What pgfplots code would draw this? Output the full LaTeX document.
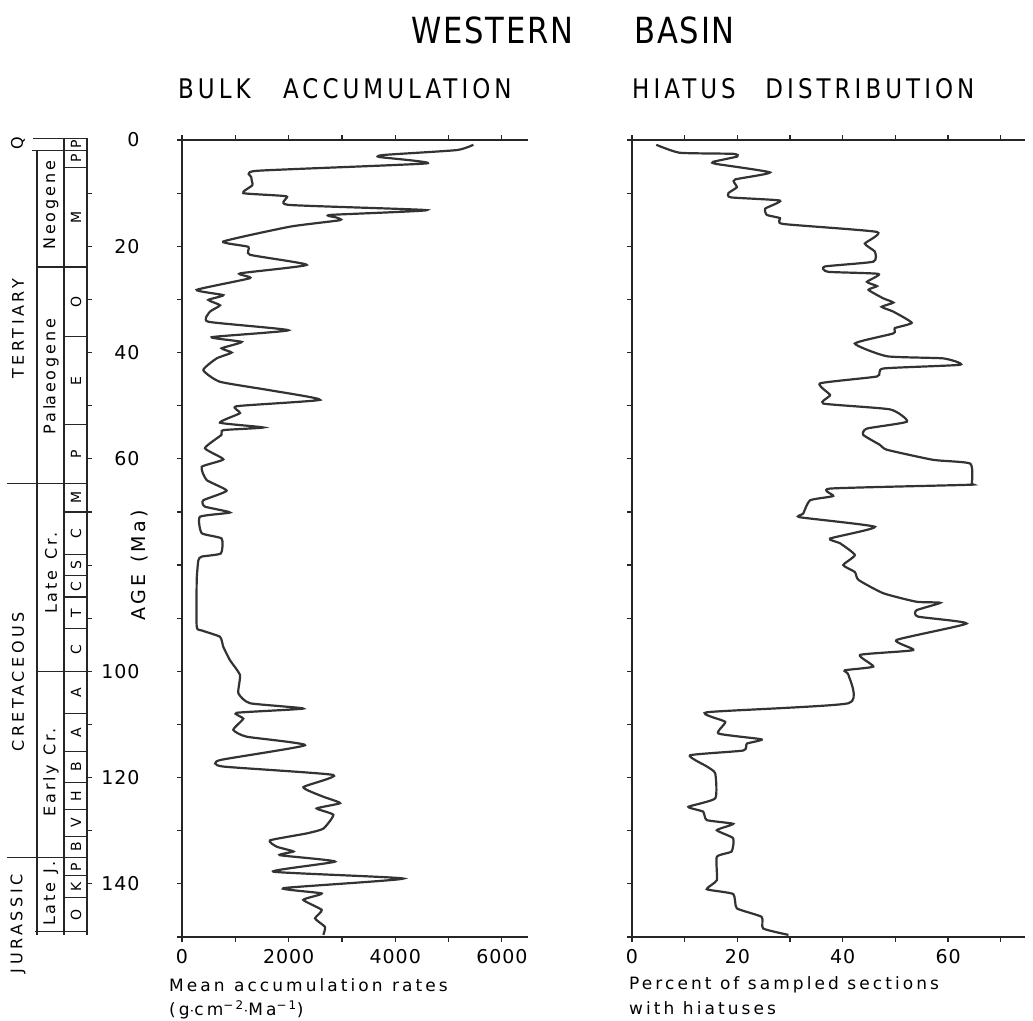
\documentclass[border=0pt]{standalone}
\usepackage{fontspec}
\setmainfont{DejaVu Sans}[LetterSpace=5]
\newfontfamily\titlefont{DejaVu Sans}[FakeStretch=0.85,LetterSpace=5]
\newfontfamily\headfont{DejaVu Sans}[FakeStretch=0.85,LetterSpace=15]
\newfontfamily\capfont{DejaVu Sans}[LetterSpace=18]
\newfontfamily\colfont{DejaVu Sans}[LetterSpace=22]
\usepackage{pgfplots}
\usepackage{pgfplotstable}
\pgfplotsset{compat=1.18}
\newcommand\fs[1]{\fontsize{#1}{#1}\selectfont}

% bulk accumulation rate (g cm-2 Ma-1) vs age (Ma)
\pgfplotstableread{
val age
5465 0.9
5150 1.9
3800 2.8
3700 3.2
4590 4.4
1400 5.8
1300 7.0
1320 8.5
1150 10.0
1960 10.6
1990 12.2
4590 13.2
2780 14.1
2900 14.6
2960 15.1
2030 16.3
775 19.1
1244 20.1
1276 21.6
2339 23.5
1088 25.1
1276 26.0
276 28.2
775 29.2
494 30.1
713 31.1
525 32.3
494 34.2
1995 35.8
557 37.1
1120 38.0
744 39.2
932 40.0
650 41.1
400 43.3
713 45.5
1651 47.1
2589 48.9
1026 50.1
1088 51.4
713 53.2
1525 54.1
775 54.6
740 55.5
431 58.0
775 60.1
370 61.5
463 64.0
838 66.0
400 67.8
430 69.0
900 70.1
338 70.9
370 74.0
744 75.0
730 77.8
370 78.4
307 79.1
276 82.8
276 91.6
370 92.3
713 93.5
775 95.4
900 97.9
1088 100.7
1057 104.1
1276 106.0
2276 107.0
1026 107.8
1150 108.9
962 111.0
1214 112.3
2307 113.9
713 116.7
760 117.9
2839 119.5
2276 121.8
2651 123.6
2964 124.8
2527 125.8
2839 127.0
2651 129.6
2339 130.5
1651 131.8
1776 133.0
2089 133.9
1838 134.6
2870 135.8
1713 137.7
4152 139.0
1901 140.8
2621 141.8
2276 143.0
2621 144.9
2495 146.5
2683 148.1
2651 149.6
}\bulk

% percent of sampled sections with hiatuses vs age (Ma)
\pgfplotstableread{
val age
4.6 0.9
9.1 2.4
19.2 2.6
20.0 3.1
15.4 4.1
16.0 4.5
26.2 6.1
19.6 7.4
19.4 8.0
19.9 8.9
18.3 10.0
18.8 10.8
28.1 11.4
25.3 12.9
25.6 14.1
28.1 14.7
28.7 15.8
46.5 17.3
44.2 19.5
46.1 21.0
45.8 22.9
36.6 23.8
37.2 24.8
46.8 25.2
44.6 26.7
46.5 27.5
44.9 28.2
47.7 29.8
49.6 30.6
47.4 31.4
49.6 32.3
53.1 34.4
49.9 35.4
49.6 36.4
42.3 38.3
48.4 40.7
59.1 41.1
62.3 42.3
47.7 43.0
46.5 44.5
35.7 45.8
37.6 48.0
36.3 49.6
49.0 50.7
52.2 53.0
44.6 54.3
43.9 55.5
47.1 57.4
48.4 58.3
57.2 60.2
64.2 60.9
64.5 64.6
63.5 64.9
37.6 65.6
38.2 67.0
33.8 67.8
32.5 70.3
31.9 71.0
46.1 72.8
37.6 75.0
39.5 75.9
42.3 78.1
40.1 80.0
42.3 81.3
43.0 82.8
47.7 85.3
54.0 86.9
58.5 87.1
54.0 88.5
54.3 89.7
63.5 91.0
50.2 94.1
53.4 96.0
43.3 96.9
45.8 99.1
40.4 99.8
41.1 100.7
41.1 106.0
14.2 107.7
17.7 109.5
16.4 111.7
24.6 112.8
21.8 113.6
21.1 114.9
11.0 115.8
14.2 117.9
15.8 119.2
15.8 123.9
10.7 125.5
13.5 126.4
14.2 128.0
19.2 128.7
16.1 129.9
19.2 131.4
18.9 133.9
16.1 134.9
16.1 139.3
14.2 141.0
19.2 141.9
19.9 144.6
24.6 146.2
24.9 148.4
29.7 149.6
}\hiatus

\pgfplotsset{
  agecol/.style={
    scale only axis, anchor=north west,
    height=797pt,
    y dir=reverse, ymin=0, ymax=150,
    axis x line=box, axis y line=left,
    axis line style={-, line width=1.3pt, black!85},
    tick align=outside,
    major tick length=5pt, minor tick length=5pt,
    every tick/.style={line width=1.2pt, black!85},
    ytick={0,20,...,140}, minor ytick={10,30,...,150},
    tick label style={font=\fs{19}},
    xticklabel style={yshift=-4pt},
    clip=false,
  },
  curve/.style={line width=2.2pt, black!80, smooth, tension=0.3},
}
\tikzset{strat/.style={line width=1.1pt, black!85}}

\begin{document}
\begin{tikzpicture}[x=1pt,y=1pt]
\path[use as bounding box] (0,0) rectangle (1033,-1020);

\begin{axis}[agecol, at={(182pt,-140pt)}, width=346pt,
  xmin=0, xmax=6490,
  xtick={0,2000,4000,6000}, minor xtick={1000,3000,5000},
  xticklabels={0,2000,4000,6000},
  yticklabels={0,20,40,60,{},100,120,140},
  yticklabel style={xshift=-34pt},
]
\addplot[curve] table[x=val,y=age] {\bulk};
\node[rotate=90,font=\capfont\fs{19}] at ([xshift=-42pt]axis cs:0,80) {AGE\hspace{0.6em}(Ma)};

% stratigraphic column (x offsets from the age axis, y in Ma)
\draw[strat] ([xshift=-149pt]axis cs:0,-0.35) -- ([xshift=-94pt]axis cs:0,-0.35);
\draw[strat] ([xshift=-150pt]axis cs:0,1.9) -- ([xshift=-94pt]axis cs:0,1.9);
\draw[strat] ([xshift=-145pt]axis cs:0,1.9) -- ([xshift=-145pt]axis cs:0,149.6);
\draw[strat] ([xshift=-118pt]axis cs:0,-0.35) -- ([xshift=-118pt]axis cs:0,149.6);
\draw[strat] ([xshift=-95pt]axis cs:0,-0.35) -- ([xshift=-95pt]axis cs:0,149.6);
\draw[strat] ([xshift=-147pt]axis cs:0,149) -- ([xshift=-95pt]axis cs:0,149);
\pgfplotsinvokeforeach{10,20,...,140}{
  \draw[strat] ([xshift=-95pt]axis cs:0,#1) -- ([xshift=-90pt]axis cs:0,#1);
}
\pgfplotsinvokeforeach{5.1,37,53.6,70,78,82,86,92,108,115,121,126,131,138.5,142.5}{
  \draw[strat] ([xshift=-118pt]axis cs:0,#1) -- ([xshift=-95pt]axis cs:0,#1);
}
\pgfplotsinvokeforeach{23.9,100}{
  \draw[strat] ([xshift=-145pt]axis cs:0,#1) -- ([xshift=-95pt]axis cs:0,#1);
}
\pgfplotsinvokeforeach{64.6,135}{
  \draw[strat] ([xshift=-175pt]axis cs:0,#1) -- ([xshift=-95pt]axis cs:0,#1);
}
% era names
\node[rotate=90,font=\colfont\fs{16}] at ([xshift=-164pt]axis cs:0,0.6) {Q};
\node[rotate=90,font=\colfont\fs{16}] at ([xshift=-164pt]axis cs:0,35.5) {TERTIARY};
\node[rotate=90,font=\colfont\fs{16}] at ([xshift=-164pt]axis cs:0,102) {CRETACEOUS};
\node[rotate=90,font=\colfont\fs{16}] at ([xshift=-164pt]axis cs:0,147.5) {JURASSIC};
% epoch names
\node[rotate=90,font=\capfont\fs{16}] at ([xshift=-131pt]axis cs:0,12.3) {Neogene};
\node[rotate=90,font=\capfont\fs{16}] at ([xshift=-131pt]axis cs:0,44.5) {Pal\kern-0.5pt aeogene};
\node[rotate=90,font=\capfont\fs{16}] at ([xshift=-131pt]axis cs:0,81.5) {Late\hspace{0.7em}Cr.};
\node[rotate=90,font=\capfont\fs{16}] at ([xshift=-131pt]axis cs:0,119) {Early\hspace{0.6em}Cr.};
\node[rotate=90,font=\capfont\fs{16}] at ([xshift=-131pt]axis cs:0,141.8) {Late\hspace{0.55em}J.};
% stage initials
\foreach \a/\t in {0.8/P,3.5/P,14.5/M,30.5/O,45.3/E,59.1/P,67.3/M,74/C,80/S,84/C,89/T,96/C,104/A,111.5/A,118/B,123.5/H,128.5/V,133/B,136.8/P,140.5/K,145.8/O}{
  \edef\temp{\noexpand\node[rotate=90,font=\noexpand\fs{14}] at ([xshift=-106pt]axis cs:0,\a) {\t};}
  \temp
}
\end{axis}

\begin{axis}[agecol, at={(632pt,-140pt)}, width=393pt,
  xmin=0, xmax=74.6,
  xtick={0,20,40,60}, minor xtick={10,30,50,70},
  xticklabels={0,20,40,60},
  yticklabels={},
]
\addplot[curve] table[x=val,y=age] {\hiatus};
\end{axis}

% titles
\node[font=\titlefont\fs{36}] at (573,-30) {WESTERN\hspace{1.7em}BASIN};
\node[font=\headfont\fs{27},anchor=west,inner sep=0pt] at (178,-89) {BULK\hspace{1.2em}ACCUMULATION};
\node[font=\headfont\fs{27},anchor=west,inner sep=0pt] at (632,-89) {HIATUS\hspace{1.1em}DISTRIBUTION};
% axis captions
\node[font=\capfont\fs{17},anchor=west,inner sep=0pt] at (169,-985) {Mean\hspace{0.55em}accumulation\hspace{0.55em}rates};
\node[font=\capfont\fs{17},anchor=west,inner sep=0pt] at (169,-1010) {(g$\cdot$cm\textsuperscript{−2}$\cdot$Ma\textsuperscript{−1})};
\node[font=\capfont\fs{17},anchor=west,inner sep=0pt] at (629,-985) {Percent\hspace{0.5em}of\hspace{0.5em}sampled\hspace{0.5em}sections};
\node[font=\capfont\fs{17},anchor=west,inner sep=0pt] at (629,-1008) {with\hspace{0.5em}hiatuses};
\end{tikzpicture}
\end{document}
